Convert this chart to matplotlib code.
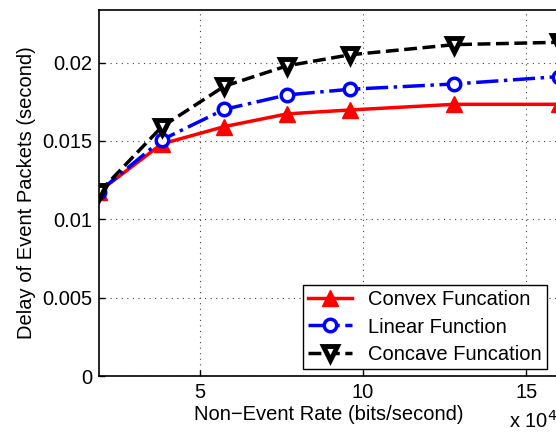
import matplotlib
matplotlib.use("Agg")
import matplotlib.pyplot as plt

plt.rcParams['font.family'] = ['Liberation Sans', 'DejaVu Sans']

rate = [1.92, 3.84, 5.76, 7.68, 9.6, 12.8, 16.0]  # x 10^4 bits/second
convex = [0.01177, 0.01481, 0.01592, 0.01673, 0.01698, 0.01734, 0.01734]
linear = [0.01177, 0.01507, 0.01702, 0.01794, 0.01830, 0.01864, 0.01911]
concave = [0.01172, 0.01590, 0.01850, 0.01980, 0.02050, 0.02115, 0.02130]

labels = ["Convex Funcation", "Linear Function", "Concave Funcation"]

fig = plt.figure(figsize=(5.56, 4.32), dpi=100)
ax = fig.add_axes([99/556, 56/432, 460/556, 366/432])

ax.plot(rate, convex, color='red', linestyle='-', linewidth=2.5, marker='^',
        markersize=11, markerfacecolor='red', markeredgecolor='red', label=labels[0])
ax.plot(rate, linear, color='blue', linestyle='-.', linewidth=2.5, marker='o',
        markersize=9, markerfacecolor='white', markeredgecolor='blue', markeredgewidth=2.5,
        label=labels[1])
ax.plot(rate, concave, color='black', linestyle='--', linewidth=2.5, marker='v',
        markersize=9.5, markerfacecolor='white', markeredgecolor='black', markeredgewidth=3.5,
        label=labels[2])

ax.set_xlim(1.92, 16.0)
ax.set_ylim(0, 0.02336)
ax.set_xticks([5, 10, 15])
ax.set_xticklabels(['5', '10', '15'])
ax.set_yticks([0, 0.005, 0.01, 0.015, 0.02])
ax.set_yticklabels(['0', '0.005', '0.01', '0.015', '0.02'])
ax.tick_params(direction='in', labelsize=14.5, length=4, width=1, pad=5)
ax.grid(True, linestyle=(0, (1, 4)), color='#444444', linewidth=0.8)
for s in ax.spines.values():
    s.set_linewidth(1.2)

ax.set_xlabel('Non\u2212Event Rate (bits/second)', fontsize=14.5, labelpad=2)
ax.set_ylabel('Delay of Event Packets (second)', fontsize=14.5, labelpad=4)

leg = ax.legend(loc='lower left', bbox_to_anchor=(303/556, (432-369)/432),
                bbox_transform=fig.transFigure, fontsize=14.5, fancybox=False,
                framealpha=1, edgecolor='black', handlelength=2.2,
                borderpad=0.25, labelspacing=0.42, handletextpad=0.8,
                borderaxespad=0)
leg.get_frame().set_linewidth(1.0)

fig.text(509/556, 0/432, r'x 10$^{4}$', fontsize=14.5, ha='left', va='bottom')

fig.savefig('out.png', dpi=100)
